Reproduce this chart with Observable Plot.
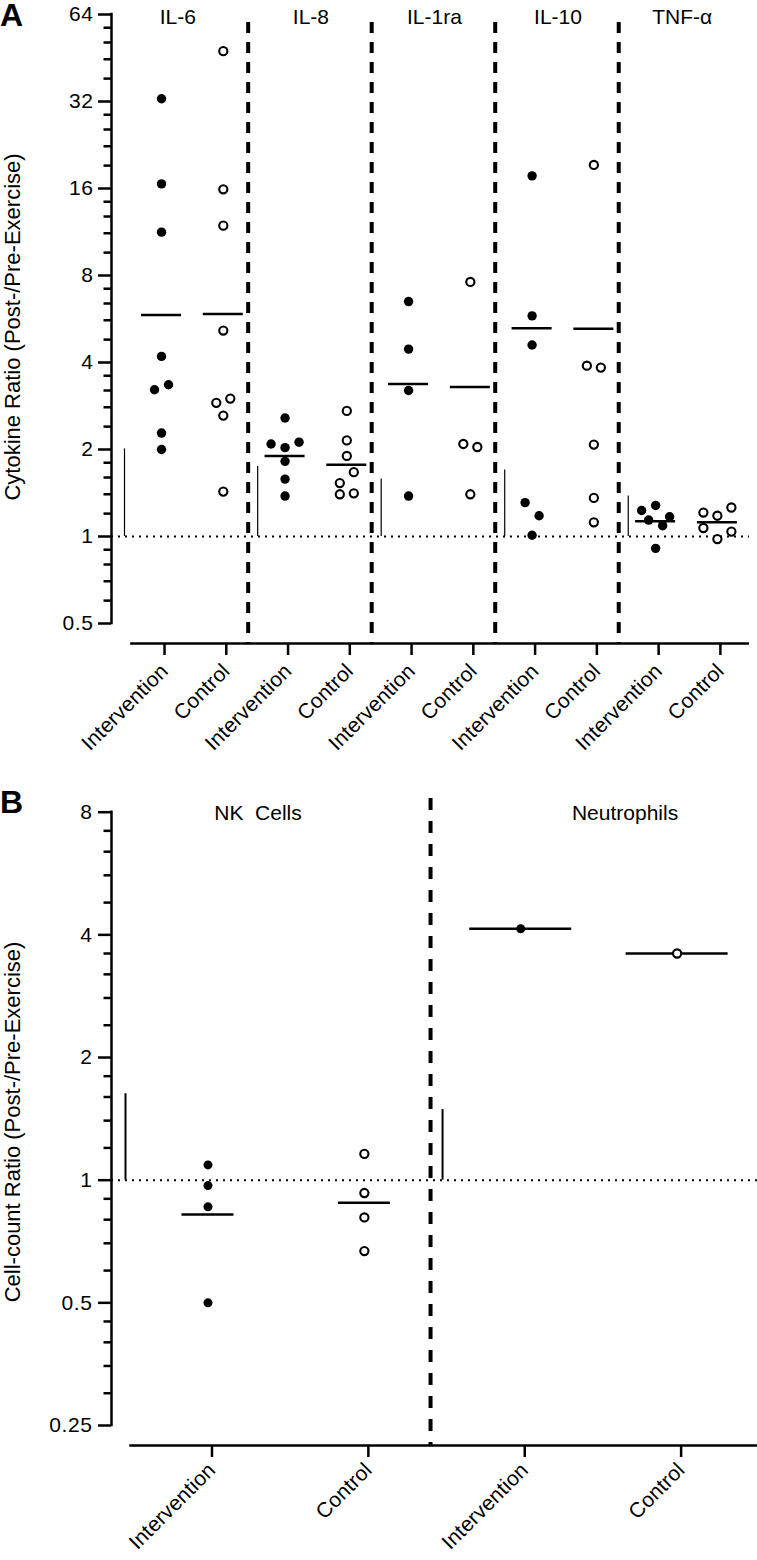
<!DOCTYPE html>
<html>
<head>
<meta charset="utf-8">
<script src="https://cdn.jsdelivr.net/npm/d3@7"></script>
<script src="https://cdn.jsdelivr.net/npm/@observablehq/plot@0.6"></script>
<style>
  html, body { margin: 0; padding: 0; background: #fff; }
  #wrap { position: relative; width: 757px; height: 1560px; font-family: "Liberation Sans", Arial, sans-serif; }
  .panel { position: absolute; left: 0; }
  .plabel { position: absolute; left: 0; font-weight: bold; font-size: 32px; line-height: 32px; color: #000; }
  text[aria-label="header"] { letter-spacing: 1.1px; white-space: pre; }
  text[aria-label="ytitle"] { letter-spacing: 0.4px; }
  g[aria-label="x-axis tick label"] text { letter-spacing: 0.2px; }
  g[aria-label="y-axis tick label"] text { letter-spacing: 0.6px; }
</style>
</head>
<body>
<div id="wrap"></div>
<script>
// ---------------- DATA ----------------
// Panel A: cytokine ratios (post/pre exercise)
const cytokines = ["IL-6", "IL-8", "IL-1ra", "IL-10", "TNF-α"];
const groupLabels = ["Intervention", "Control"];

const il6Intervention   = [32.7, 16.6, 11.3, 4.2, 3.22, 3.35, 2.28, 2.0];
const il6Control        = [47.8, 15.9, 11.9, 5.16, 2.9, 3.0, 2.62, 1.43];
const il8Intervention   = [2.57, 2.09, 2.03, 2.12, 1.82, 1.58, 1.38];
const il8Control        = [2.72, 2.15, 1.90, 1.53, 1.67, 1.40, 1.41];
const il1raIntervention = [6.5, 4.45, 3.2, 1.38];
const il1raControl      = [7.6, 2.09, 2.04, 1.40];
const il10Intervention  = [17.7, 5.8, 4.6, 1.31, 1.18, 1.01];
const il10Control       = [19.3, 3.9, 3.84, 2.08, 1.36, 1.12];
const tnfIntervention   = [1.23, 1.28, 1.17, 1.14, 1.09, 0.91];
const tnfControl        = [1.21, 1.18, 1.26, 1.07, 0.98, 1.04];

const cytokineMeanIntervention = [5.84, 1.90, 3.37, 5.26, 1.13];
const cytokineMeanControl      = [5.89, 1.77, 3.29, 5.23, 1.12];
const cytokineBarTop           = [2.01, 1.745, 1.58, 1.70, 1.38];

const yTicksA = [0.5, 1, 2, 4, 8, 16, 32, 64];

// Panel B: cell-count ratios
const cellTypes = ["NK  Cells", "Neutrophils"];
const nkIntervention     = [1.09, 0.97, 0.86, 0.5];
const nkControl          = [1.16, 0.93, 0.81, 0.67];
const neutroIntervention = [4.14];
const neutroControl      = [3.6];
const cellMeanIntervention = [0.824, 4.14];
const cellMeanControl      = [0.88, 3.6];
const cellBarTop           = [1.63, 1.49];

const yTicksB = [0.25, 0.5, 1, 2, 4, 8];

// ---------------- HELPERS ----------------
const W = 757;
const FONT = '"Liberation Sans", Arial, sans-serif';

// Minor ticks at 1.2, 1.4, 1.6, 1.8 x each power of two
function minorTicks(major) {
  const out = [];
  for (let i = 0; i < major.length - 1; i++)
    for (const m of [1.2, 1.4, 1.6, 1.8]) out.push(major[i] * m);
  return out;
}

// Scatter layout: points closer than `thresh` px vertically are laid out in a centred row
function rowOffsets(vals, pxPerDoubling, thresh = 14, gap = 14) {
  const order = d3.range(vals.length).sort((a, b) => vals[b] - vals[a]);
  const off = new Array(vals.length).fill(0);
  let i = 0;
  while (i < order.length) {
    const start = vals[order[i]];
    let j = i + 1;
    while (j < order.length && Math.log2(start / vals[order[j]]) * pxPerDoubling < thresh) j++;
    const members = order.slice(i, j).sort((a, b) => a - b);
    members.forEach((m, k) => off[m] = (k - (members.length - 1) / 2) * gap);
    i = j;
  }
  return off;
}

function buildPoints(series, pxPerUnit, pxPerDoubling) {
  return series.flatMap((vals, ci) => {
    const off = rowOffsets(vals, pxPerDoubling);
    return vals.map((v, j) => ({pos: ci + 1, x: ci + 1 + off[j] / pxPerUnit, v, open: ci % 2 === 1}));
  });
}

const wrap = document.getElementById("wrap");

// ---------------- PANEL A ----------------
{
  const H = 760, mt = 22, mb = 117, ml = 111, mr = 8;
  const xDom = [0.19, 10.52];
  const yDom = [0.5, 64];
  const yRange = [623, 14];
  const pxPerUnit = (W - ml - mr) / (xDom[1] - xDom[0]);
  const pxPerDoubling = (yRange[0] - yRange[1]) / Math.log2(yDom[1] / yDom[0]);
  const axisGap = (H - mb) - yRange[0];

  const series = [il6Intervention, il6Control, il8Intervention, il8Control, il1raIntervention,
                  il1raControl, il10Intervention, il10Control, tnfIntervention, tnfControl];
  const points = buildPoints(series, pxPerUnit, pxPerDoubling);
  const means = cytokines.flatMap((c, i) => [
    {pos: 2 * i + 1, v: cytokineMeanIntervention[i]},
    {pos: 2 * i + 2, v: cytokineMeanControl[i]}
  ]);
  const seps = cytokines.slice(1).map((_, i) => 2 * (i + 1) + 0.5);
  const bounds = [xDom[0], ...seps, xDom[1]];
  const bars = cytokines.map((c, i) => ({
    x: i === 0 ? xDom[0] + 13 / pxPerUnit : 2 * i + 0.5 + 3.5 / pxPerUnit,
    top: cytokineBarTop[i]
  }));
  const hw = 20 / pxPerUnit;
  const cats = d3.range(1, series.length + 1);

  const plot = Plot.plot({
    width: W, height: H,
    marginTop: mt, marginBottom: mb, marginLeft: ml, marginRight: mr,
    style: {fontFamily: FONT, fontSize: "21px", color: "#000", background: "#fff", overflow: "visible"},
    x: {domain: xDom},
    y: {type: "log", base: 2, domain: yDom, range: yRange},
    marks: [
      Plot.ruleY([1], {x1: xDom[0], x2: xDom[1], strokeDasharray: "2,5", strokeWidth: 2}),
      Plot.ruleX(bars, {x: "x", y1: 1, y2: "top", strokeWidth: 1.2}),
      Plot.ruleX(seps, {dx: -6, strokeWidth: 4, strokeDasharray: "11,9"}),
      Plot.ruleY(means, {y: "v", x1: d => d.pos - hw, x2: d => d.pos + hw, strokeWidth: 2.5}),
      Plot.dot(points.filter(d => !d.open), {x: "x", y: "v", r: 4.7, fill: "#000", stroke: null}),
      Plot.dot(points.filter(d => d.open), {x: "x", y: "v", r: 4.1, fill: "#fff", stroke: "#000", strokeWidth: 2.1}),
      Plot.ruleY([yDom[0]], {x1: 0.5, x2: xDom[1], dy: axisGap, strokeWidth: 2.5}),
      Plot.ruleX([xDom[0]], {y1: yDom[0], y2: yDom[1], strokeWidth: 2.5, strokeLinecap: "square"}),
      Plot.axisY({ticks: minorTicks(yTicksA), tickSize: 7.5, fill: "none", strokeWidth: 2.5, label: null}),
      Plot.axisY({ticks: yTicksA, tickSize: 13, tickPadding: 5, tickFormat: d => String(d), strokeWidth: 2.5, label: null, fontSize: 21}),
      Plot.axisX({ticks: cats, tickSize: 12, tickPadding: 12, tickRotate: -45, dx: 3, tickFormat: d => groupLabels[(d - 1) % 2], strokeWidth: 2.5, label: null, fontSize: 21}),
      Plot.text(cytokines, {x: (d, i) => (bounds[i] + bounds[i + 1]) / 2, text: d => d, frameAnchor: "top", lineAnchor: "middle", textAnchor: "middle", dx: -5, dy: -5, fontSize: 21, ariaLabel: "header"}),
      Plot.text(["Cytokine Ratio (Post-/Pre-Exercise)"], {text: d => d, frameAnchor: "left", textAnchor: "middle", lineAnchor: "middle", rotate: -90, dx: -99, dy: -6, fontSize: 22, ariaLabel: "ytitle"})
    ]
  });
  const holder = document.createElement("div");
  holder.className = "panel";
  holder.style.top = "0px";
  holder.appendChild(plot);
  wrap.appendChild(holder);
  const lab = document.createElement("div");
  lab.className = "plabel";
  lab.style.top = "-1px";
  lab.textContent = "A";
  wrap.appendChild(lab);
}

// ---------------- PANEL B ----------------
{
  const top = 760;
  const H = 800, mt = 38, mb = 115, ml = 111, mr = 0;
  const xDom = [0.383, 4.514];
  const yDom = [0.25, 8];
  const yRange = [665, 51.7];
  const pxPerUnit = (W - ml - mr) / (xDom[1] - xDom[0]);
  const pxPerDoubling = (yRange[0] - yRange[1]) / Math.log2(yDom[1] / yDom[0]);
  const axisGap = (H - mb) - yRange[0];

  const series = [nkIntervention, nkControl, neutroIntervention, neutroControl];
  const points = buildPoints(series, pxPerUnit, pxPerDoubling);
  const halfWidthPx = [26, 51];
  const means = cellTypes.flatMap((c, i) => [
    {pos: 2 * i + 1, v: cellMeanIntervention[i], hw: halfWidthPx[i] / pxPerUnit},
    {pos: 2 * i + 2, v: cellMeanControl[i], hw: halfWidthPx[i] / pxPerUnit}
  ]);
  const seps = cellTypes.slice(1).map((_, i) => 2 * (i + 1) + 0.5);
  const bounds = [xDom[0], ...seps, xDom[1]];
  const bars = cellTypes.map((c, i) => ({
    x: i === 0 ? xDom[0] + 14 / pxPerUnit : 2 * i + 0.5,
    top: cellBarTop[i]
  }));
  const headerDx = [-19, 25];
  const cats = d3.range(1, series.length + 1);

  const plot = Plot.plot({
    width: W, height: H,
    marginTop: mt, marginBottom: mb, marginLeft: ml, marginRight: mr,
    style: {fontFamily: FONT, fontSize: "21px", color: "#000", background: "#fff", overflow: "visible"},
    x: {domain: xDom},
    y: {type: "log", base: 2, domain: yDom, range: yRange},
    marks: [
      Plot.ruleY([1], {x1: xDom[0], x2: xDom[1], strokeDasharray: "2,5", strokeWidth: 2}),
      Plot.ruleX(bars, {x: "x", y1: 1, y2: "top", strokeWidth: 2}),
      Plot.ruleX(seps, {dx: -12, strokeWidth: 4, strokeDasharray: "12,11"}),
      Plot.ruleY(means, {y: "v", x1: d => d.pos - d.hw, x2: d => d.pos + d.hw, strokeWidth: 2.5}),
      Plot.dot(points.filter(d => !d.open), {x: "x", y: "v", r: 4.5, fill: "#000", stroke: null}),
      Plot.dot(points.filter(d => d.open), {x: "x", y: "v", r: 4.1, fill: "#fff", stroke: "#000", strokeWidth: 2.1}),
      Plot.ruleY([yDom[0]], {x1: 0.5, x2: xDom[1], dy: axisGap, strokeWidth: 2.5}),
      Plot.ruleX([xDom[0]], {y1: yDom[0], y2: yDom[1], strokeWidth: 2.5, strokeLinecap: "square"}),
      Plot.axisY({ticks: minorTicks(yTicksB), tickSize: 7.5, fill: "none", strokeWidth: 2.5, label: null}),
      Plot.axisY({ticks: yTicksB, tickSize: 13, tickPadding: 6, tickFormat: d => String(d), strokeWidth: 2.5, label: null, fontSize: 21}),
      Plot.axisX({ticks: cats, tickSize: 12, tickPadding: 9, tickRotate: -45, dx: 4, tickFormat: d => groupLabels[(d - 1) % 2], strokeWidth: 2.5, label: null, fontSize: 21}),
      ...cellTypes.map((c, i) => Plot.text([c], {x: () => (bounds[i] + bounds[i + 1]) / 2, text: d => d, frameAnchor: "top", lineAnchor: "middle", textAnchor: "middle", dx: headerDx[i], dy: 15, fontSize: 21, ariaLabel: "header"})),
      Plot.text(["Cell-count Ratio (Post-/Pre-Exercise)"], {text: d => d, frameAnchor: "left", textAnchor: "middle", lineAnchor: "middle", rotate: -90, dx: -99, fontSize: 22, ariaLabel: "ytitle"})
    ]
  });
  const holder = document.createElement("div");
  holder.className = "panel";
  holder.style.top = top + "px";
  holder.appendChild(plot);
  wrap.appendChild(holder);
  const lab = document.createElement("div");
  lab.className = "plabel";
  lab.style.top = (top + 26) + "px";
  lab.textContent = "B";
  wrap.appendChild(lab);
}
</script>
</body>
</html>
